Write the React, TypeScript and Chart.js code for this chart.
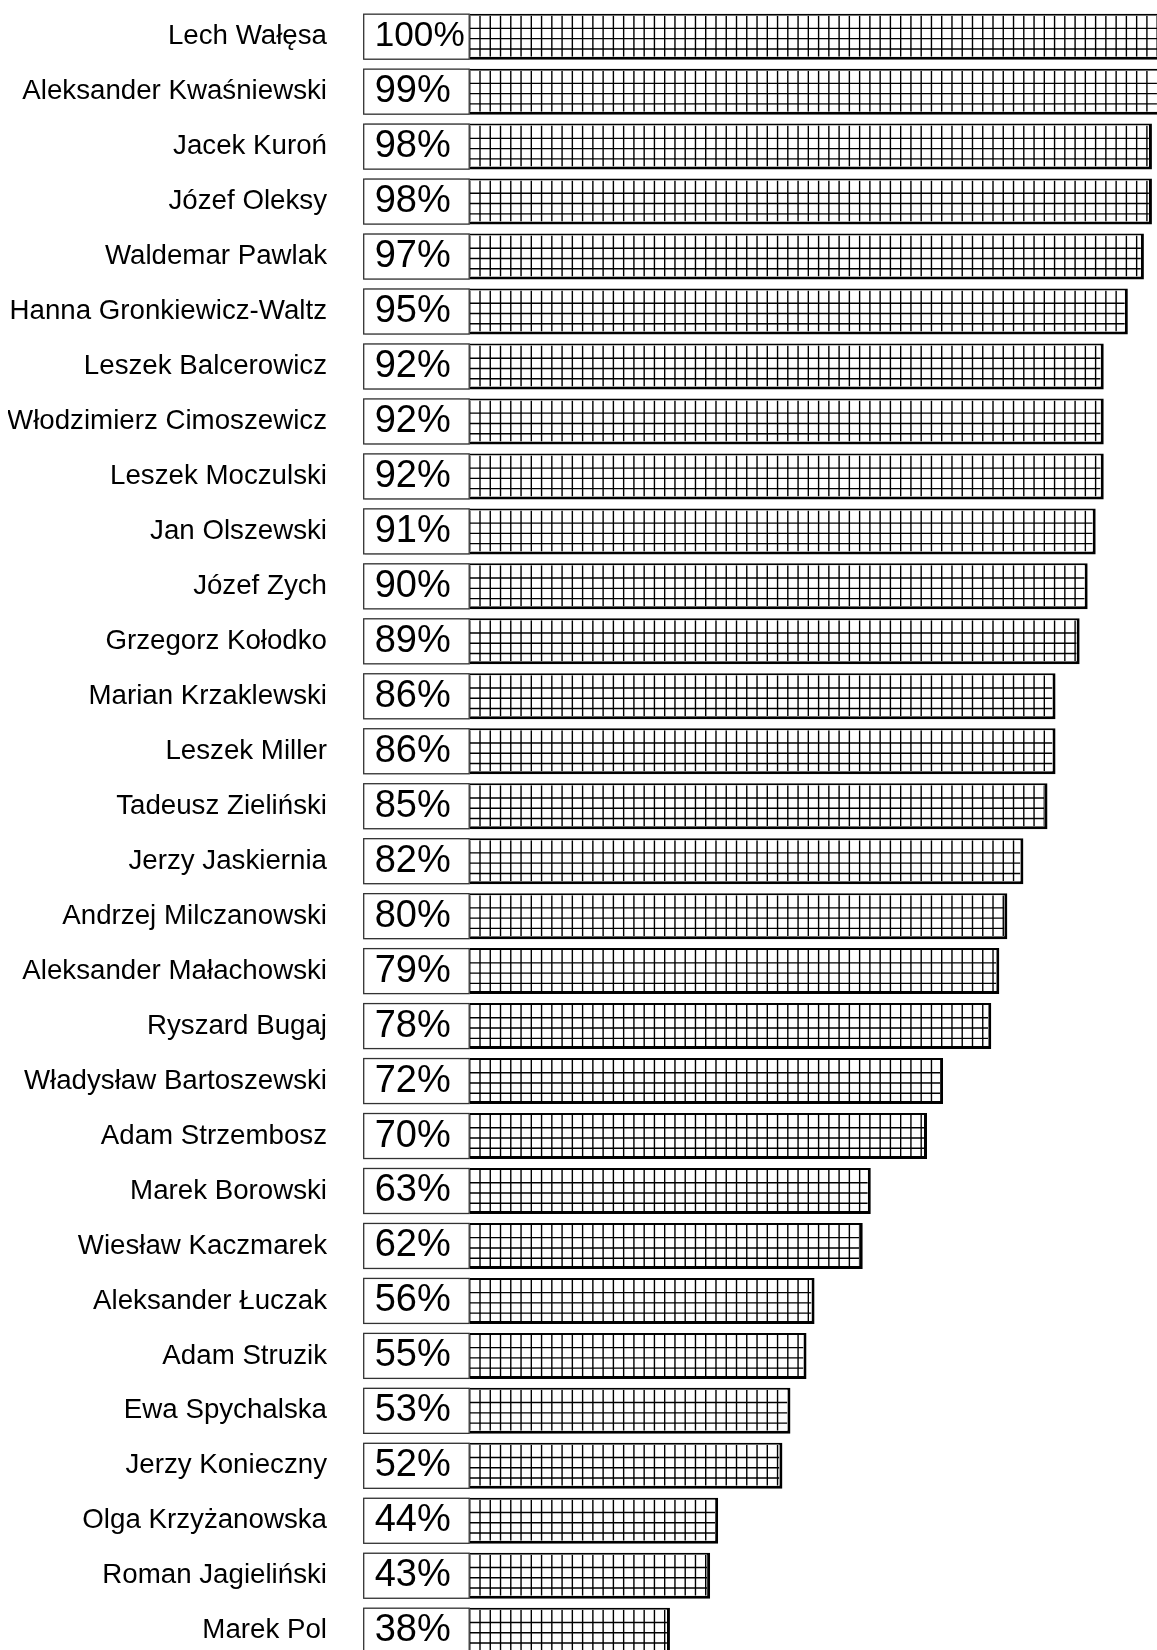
import React, { useEffect, useRef } from 'react';
import { Chart, registerables } from 'chart.js';

Chart.register(...registerables);

const names: string[] = [
  'Lech Wałęsa',
  'Aleksander Kwaśniewski',
  'Jacek Kuroń',
  'Józef Oleksy',
  'Waldemar Pawlak',
  'Hanna Gronkiewicz-Waltz',
  'Leszek Balcerowicz',
  'Włodzimierz Cimoszewicz',
  'Leszek Moczulski',
  'Jan Olszewski',
  'Józef Zych',
  'Grzegorz Kołodko',
  'Marian Krzaklewski',
  'Leszek Miller',
  'Tadeusz Zieliński',
  'Jerzy Jaskiernia',
  'Andrzej Milczanowski',
  'Aleksander Małachowski',
  'Ryszard Bugaj',
  'Władysław Bartoszewski',
  'Adam Strzembosz',
  'Marek Borowski',
  'Wiesław Kaczmarek',
  'Aleksander Łuczak',
  'Adam Struzik',
  'Ewa Spychalska',
  'Jerzy Konieczny',
  'Olga Krzyżanowska',
  'Roman Jagieliński',
  'Marek Pol',
];

const values: number[] = [
  100, 99, 98, 98, 97, 95, 92, 92, 92, 91, 90, 89, 86, 86, 85, 82, 80, 79, 78, 72,
  70, 63, 62, 56, 55, 53, 52, 44, 43, 38,
];

const FONT = '"Liberation Sans", Arial, Helvetica, sans-serif';

const hatchPlugin = {
  id: 'hatchAndLabels',
  afterDatasetsDraw(chart: any) {
    const ctx: CanvasRenderingContext2D = chart.ctx;
    const meta = chart.getDatasetMeta(0);
    const zero = chart.scales.x.getPixelForValue(0);
    const step = 10.26;
    meta.data.forEach((bar: any, i: number) => {
      const p = bar.getProps(['x', 'y', 'base', 'height'], true);
      const top = p.y - p.height / 2;
      const bottom = p.y + p.height / 2;
      const il = p.base;
      const ir = p.x - 3;
      const it = top + 2;
      const ib = bottom - 3;
      // grid hatch
      ctx.save();
      ctx.beginPath();
      ctx.rect(il, it, ir - il, ib - it);
      ctx.clip();
      ctx.strokeStyle = '#000';
      ctx.lineWidth = 1.4;
      ctx.beginPath();
      for (let gx = zero + 2.45; gx < ir; gx += step) {
        ctx.moveTo(gx, it);
        ctx.lineTo(gx, ib);
      }
      for (let k = 1; k <= 3; k++) {
        const gy = bottom - 0.5 - k * step;
        ctx.moveTo(il, gy);
        ctx.lineTo(ir, gy);
      }
      ctx.stroke();
      ctx.restore();

      // value box
      ctx.save();
      const bx = zero - 1.5;
      const bw = 106.5;
      ctx.fillStyle = '#fff';
      ctx.fillRect(bx, top, bw, p.height);
      ctx.strokeStyle = '#333';
      ctx.lineWidth = 1.3;
      ctx.strokeRect(bx + 0.5, top + 0.5, bw - 1, p.height - 1);
      const text = values[i] + '%';
      let size = 38;
      ctx.font = `${size}px ${FONT}`;
      let w = ctx.measureText(text).width;
      if (w > 90) {
        size = size * 90 / w;
        ctx.font = `${size}px ${FONT}`;
      }
      ctx.fillStyle = '#000';
      ctx.textAlign = 'left';
      ctx.textBaseline = 'middle';
      ctx.fillText(text, zero + 10, p.y);
      ctx.restore();
    });
  },
};

export default function App() {
  const ref = useRef<HTMLCanvasElement | null>(null);

  useEffect(() => {
    if (!ref.current) return;
    const chart = new Chart(ref.current, {
      type: 'bar',
      data: {
        labels: names,
        datasets: [
          {
            data: values,
            backgroundColor: '#fff',
            borderColor: '#000',
            borderWidth: { top: 2, right: 3, bottom: 3, left: 0 } as any,
            borderSkipped: false as any,
            barPercentage: 0.837,
            categoryPercentage: 1,
          },
        ],
      },
      options: {
        indexAxis: 'y',
        animation: false,
        responsive: false,
        devicePixelRatio: 1,
        layout: { padding: { top: 1.2, bottom: 11.8, left: 0, right: 10 } },
        plugins: {
          legend: { display: false },
          tooltip: { enabled: false },
        },
        scales: {
          x: {
            display: false,
            min: 0,
            max: 100,
          },
          y: {
            border: { display: false },
            grid: { display: false, drawTicks: false },
            ticks: {
              autoSkip: false,
              padding: 37.7,
              color: '#000',
              font: { family: FONT, size: 27.7 },
            },
            afterFit: (scale: any) => {
              scale.width = 356.7;
              scale.paddingTop = 0;
              scale.paddingBottom = 0;
            },
          },
        },
      },
      plugins: [hatchPlugin],
    });
    return () => chart.destroy();
  }, []);

  return (
    <div
      style={{
        position: 'absolute',
        left: 8,
        top: 8,
        width: 1149,
        height: 1642,
        overflow: 'hidden',
        background: '#fff',
      }}
    >
      <canvas ref={ref} width={1170} height={1662} style={{ display: 'block' }} />
    </div>
  );
}
